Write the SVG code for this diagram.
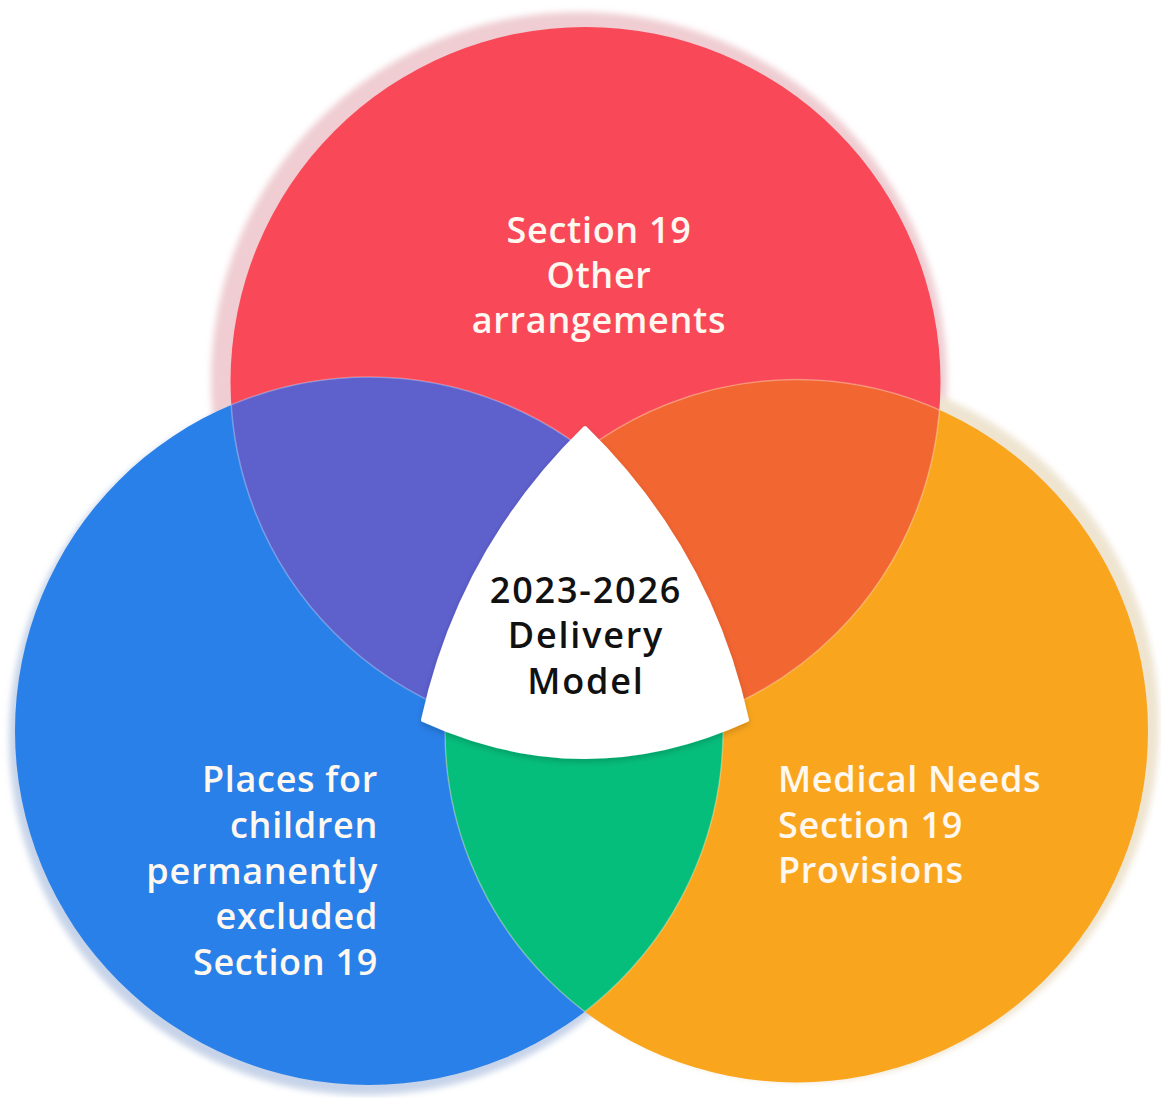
<svg xmlns="http://www.w3.org/2000/svg" width="1161" height="1098" viewBox="0 0 1161 1098">
<style>
.lbl{font-family:"Open Sans","Liberation Sans",sans-serif;font-weight:600;font-size:36px;letter-spacing:0.7px;fill:#FFF8F0}
.ctr{font-family:"Open Sans","Liberation Sans",sans-serif;font-weight:600;font-size:36px;letter-spacing:1.8px;fill:#111111}
.edge{fill:none;stroke:#FFFFFF;stroke-opacity:0.3;stroke-width:1.5}
</style>
<defs>
<filter id="soft" x="-10%" y="-10%" width="120%" height="120%"><feGaussianBlur stdDeviation="3"/></filter>
<filter id="wsh" x="-20%" y="-20%" width="140%" height="140%"><feDropShadow dx="0" dy="3" stdDeviation="3" flood-color="#000000" flood-opacity="0.18"/></filter>
<clipPath id="cRed"><circle cx="585.5" cy="382" r="355"/></clipPath>
<clipPath id="cBlue"><circle cx="369" cy="731" r="354"/></clipPath>
<clipPath id="cOrange"><circle cx="796.5" cy="731" r="351.5"/></clipPath>
</defs>
<rect width="1161" height="1098" fill="#FFFFFF"/>
<g id="halos">
<circle cx="579" cy="380" r="368" fill="#EFCDD2" filter="url(#soft)"/>
<circle cx="802" cy="725" r="357" fill="#EEE4D0" filter="url(#soft)"/>
<circle cx="366" cy="738" r="357" fill="#C6D3E8" filter="url(#soft)"/>
</g>
<g id="node-red">
<circle cx="585.5" cy="382" r="355" fill="#F94958"/>
</g>
<g id="node-blue">
<circle cx="369" cy="731" r="354" fill="#2980E8"/>
</g>
<g id="node-orange">
<circle cx="796.5" cy="731" r="351.5" fill="#F9A61E"/>
</g>
<g id="overlaps">
<g clip-path="url(#cRed)"><circle cx="369" cy="731" r="354" fill="#5E60CC"/></g>
<g clip-path="url(#cRed)"><circle cx="796.5" cy="731" r="351.5" fill="#F26632"/></g>
<g clip-path="url(#cBlue)"><circle cx="796.5" cy="731" r="351.5" fill="#06BE7C"/></g>
<g clip-path="url(#cRed)"><circle class="edge" cx="369" cy="731" r="354"/><circle class="edge" cx="796.5" cy="731" r="351.5"/></g>
<g clip-path="url(#cBlue)"><circle class="edge" cx="585.5" cy="382" r="355"/><circle class="edge" cx="796.5" cy="731" r="351.5"/></g>
<g clip-path="url(#cOrange)"><circle class="edge" cx="585.5" cy="382" r="355"/><circle class="edge" cx="369" cy="731" r="354"/></g>
</g>
<g id="node-center">
<path d="M585,428 Q460,550 423,720 Q585,794 747,720 Q710,550 585,428 Z" fill="#FFFFFF" stroke="#FFFFFF" stroke-width="4" stroke-linejoin="round" filter="url(#wsh)"/>
<text class="ctr" text-anchor="middle"><tspan x="586" y="603">2023-2026</tspan><tspan x="586" y="648">Delivery</tspan><tspan x="586" y="694">Model</tspan></text>
</g>
<g id="label-red">
<text class="lbl" text-anchor="middle"><tspan x="599" y="243">Section 19</tspan><tspan x="599" y="288">Other</tspan><tspan x="599" y="333">arrangements</tspan></text>
</g>
<g id="label-blue">
<text class="lbl" text-anchor="end"><tspan x="378" y="792">Places for</tspan><tspan x="378" y="838">children</tspan><tspan x="378" y="884">permanently</tspan><tspan x="378" y="929">excluded</tspan><tspan x="378" y="975">Section 19</tspan></text>
</g>
<g id="label-orange">
<text class="lbl" text-anchor="start"><tspan x="778" y="792">Medical Needs</tspan><tspan x="778" y="838">Section 19</tspan><tspan x="778" y="883">Provisions</tspan></text>
</g>
<g id="connectors"/>
</svg>
